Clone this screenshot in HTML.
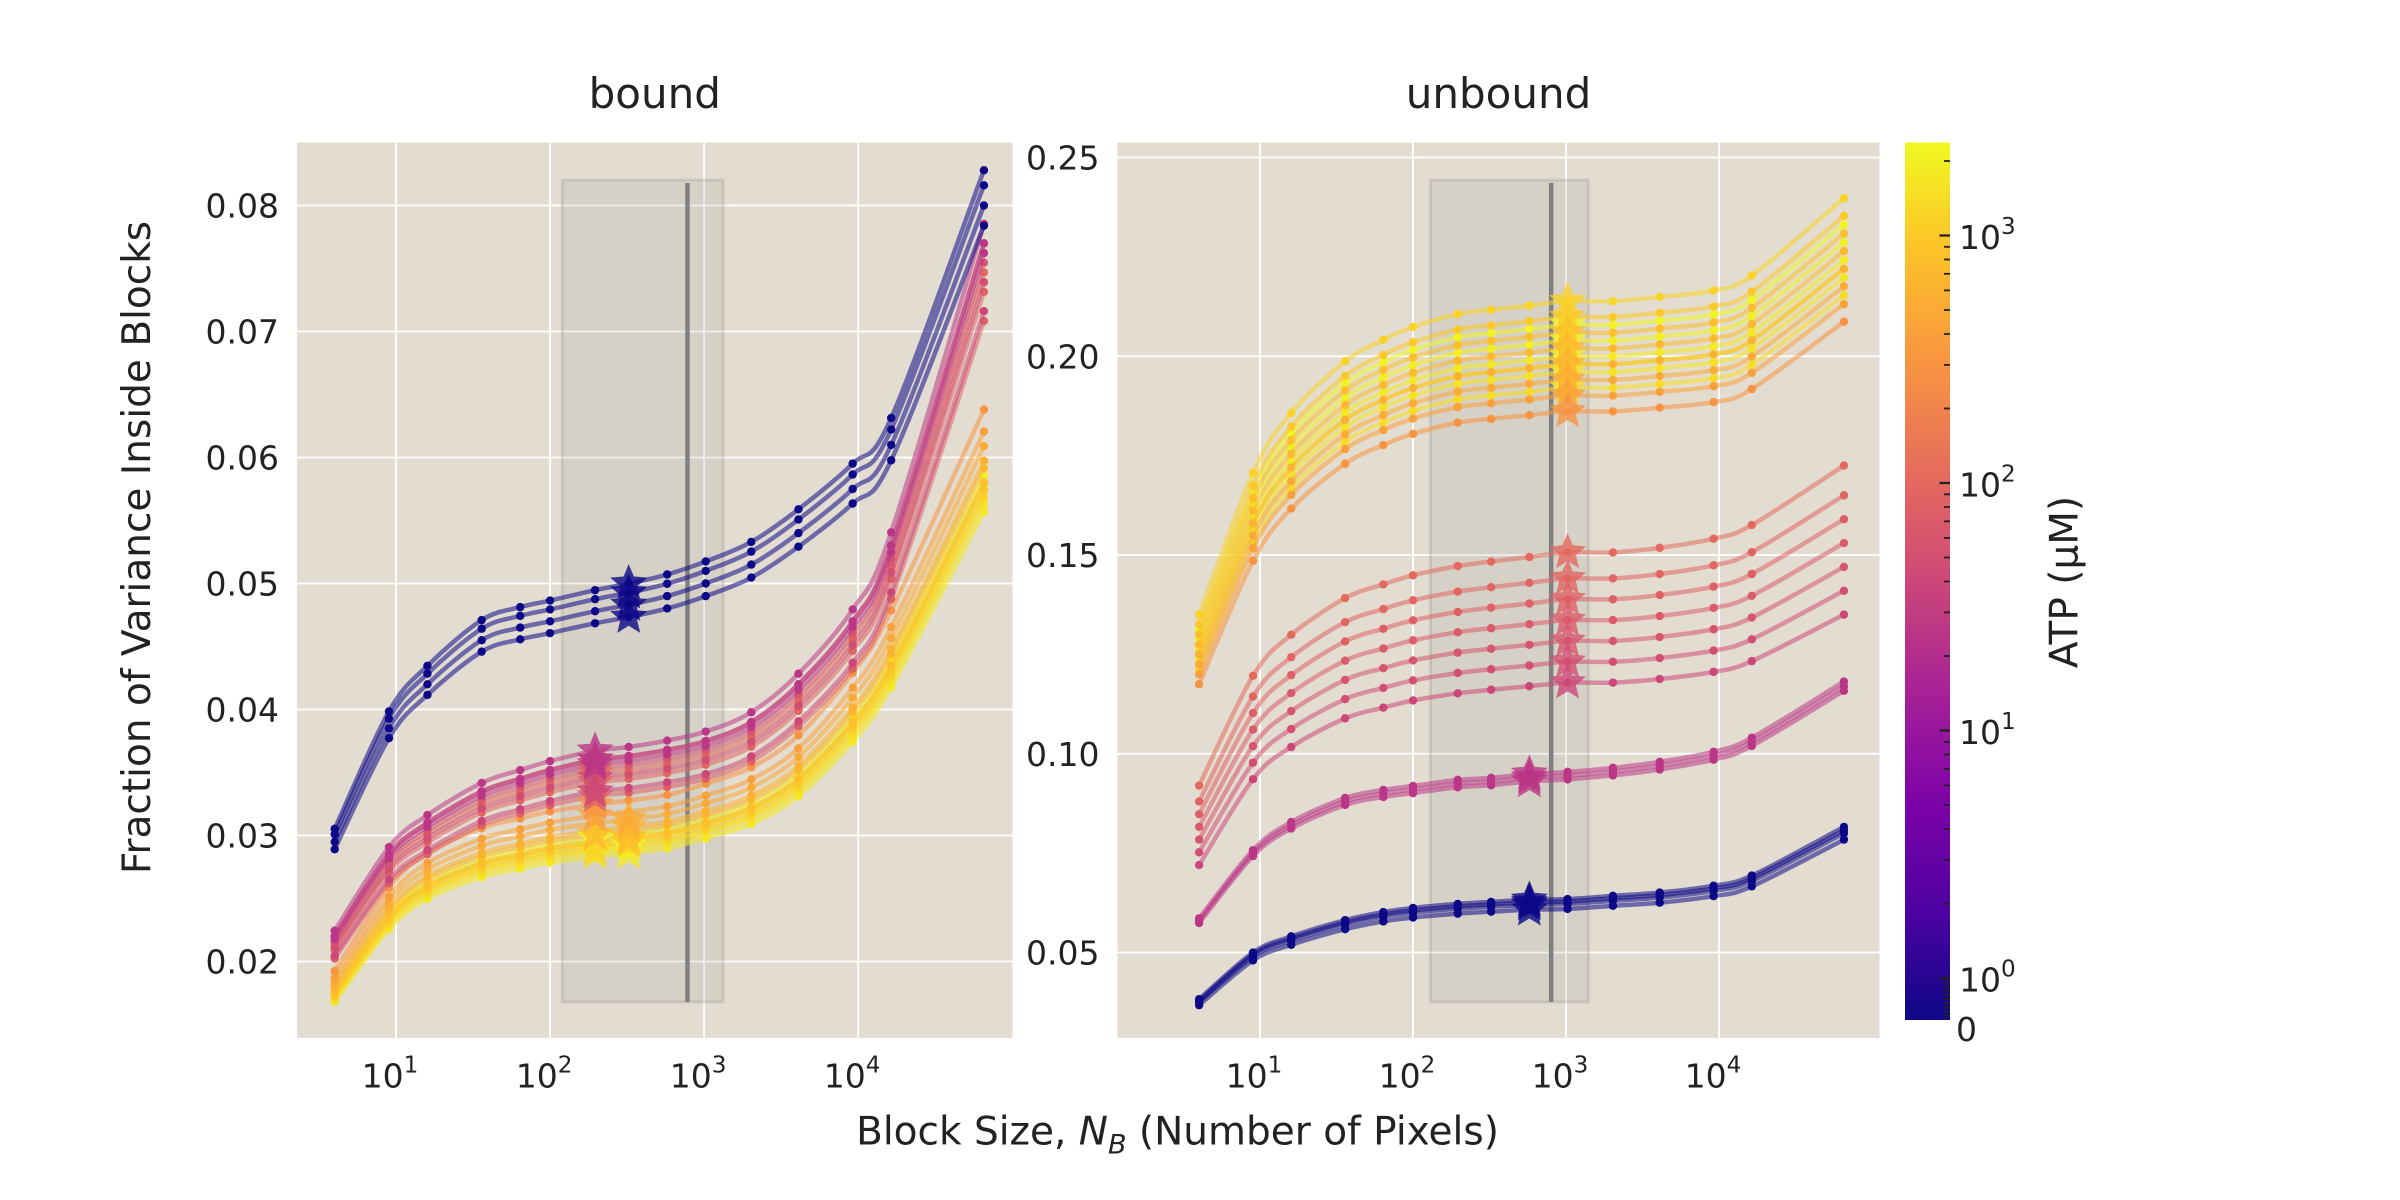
<!DOCTYPE html>
<html><head><meta charset="utf-8">
<style>
html,body{margin:0;padding:0;background:#fff;}
svg{display:block;font-family:"DejaVu Sans","Liberation Sans",sans-serif;}
</style></head>
<body>
<svg id="chart" width="2400" height="1200" viewBox="0 0 1600 800" xmlns="http://www.w3.org/2000/svg">
<defs>
<linearGradient id="plasma" x1="0" y1="1" x2="0" y2="0">
<stop offset="0" stop-color="#0d0887"/><stop offset="0.12" stop-color="#4c02a1"/>
<stop offset="0.25" stop-color="#7e03a8"/><stop offset="0.38" stop-color="#a92395"/>
<stop offset="0.5" stop-color="#cc4778"/><stop offset="0.62" stop-color="#e56b5d"/>
<stop offset="0.75" stop-color="#f89540"/><stop offset="0.88" stop-color="#fdc328"/>
<stop offset="1" stop-color="#f0f921"/>
</linearGradient>
</defs>
<g id="root"></g>
</svg>
<script>
// ---- data ----
const blockSizes = [4,9,16,36,64,100,196,324,576,1024,2025,4096,9216,16384,65536];
const leftBaseBlue   = [0.0295,0.0385,0.042,0.0455,0.0465,0.047,0.0478,0.0483,0.049,0.050,0.0515,0.054,0.0575,0.061,0.080];
const leftBaseRed    = [0.022,0.0285,0.031,0.0335,0.0345,0.0352,0.036,0.0363,0.0368,0.0375,0.039,0.042,0.047,0.053,0.077];
const leftBaseYellow = [0.0175,0.0235,0.026,0.0278,0.0285,0.029,0.0295,0.0298,0.0302,0.031,0.0322,0.0345,0.039,0.0435,0.058];
const rightBaseBlue   = [0.0375,0.049,0.053,0.057,0.059,0.060,0.061,0.0615,0.062,0.0622,0.063,0.0638,0.0655,0.068,0.080];
const rightBaseMag    = [0.058,0.075,0.082,0.088,0.090,0.091,0.0925,0.093,0.094,0.0945,0.0955,0.097,0.0995,0.103,0.117];
const rightBaseRed    = [0.080,0.104,0.113,0.121,0.124,0.126,0.128,0.129,0.130,0.131,0.131,0.132,0.134,0.137,0.150];
const rightBaseYellow = [0.125,0.158,0.172,0.184,0.189,0.192,0.195,0.196,0.197,0.198,0.198,0.199,0.2005,0.204,0.222];
const seriesATP = [0,0,0,0, 25,25,25, 40,50,60,70,80,90,100, 300,400,500,600,700,800,1000,1200,1400,1600,1800,2000,2200,2400];
const leftGroup  = [0,0,0,0, 1,1,1, 1,1,1,1,1,1,1, 2,2,2,2,2,2,2,2,2,2,2,2,2,2];
const leftScale  = [0.98,1.0,1.02,1.035, 1.0,1.02,0.99, 0.93,0.96,0.98,1.0,0.92,0.95,0.97, 1.1,1.07,1.05,1.03,1.02,1.0,0.99,0.98,1.0,0.97,0.96,1.01,0.98,0.995];
const rightGroup = [0,0,0,0, 1,1,1, 2,2,2,2,2,2,2, 3,3,3,3,3,3,3,3,3,3,3,3,3,3];
const rightScale = [0.98,1.0,1.01,1.02, 0.99,1.0,1.01, 0.9,0.94,0.98,1.02,1.06,1.1,1.15, 0.94,0.96,0.98,1.0,1.02,1.04,1.06,1.08,0.97,0.99,1.01,1.03,1.05,1.0];
const leftStarIdx  = [7,7,7,7, 6,6,6, 6,6,6,6,6,6,6, 6,6,7,7,6,7,7,6,7,6,7,6,7,7];
const rightStarIdx = [8,8,8,8, 8,8,8, 9,9,9,9,9,9,9, 9,9,9,9,9,9,9,9,9,9,9,9,9,9];
const leftYTicks = [0.02,0.03,0.04,0.05,0.06,0.07,0.08];
const rightYTicks = [0.05,0.10,0.15,0.20,0.25];
const xTickExps = [1,2,3,4];
const cbarExps = [0,1,2,3];

// ---- helpers ----
const NS="http://www.w3.org/2000/svg";
const root=document.getElementById('root');
function mk(tag,attrs,parent){const e=document.createElementNS(NS,tag);for(const k in attrs)e.setAttribute(k,attrs[k]);(parent||root).appendChild(e);return e;}
const stops=[[0,[13,8,135]],[0.12,[76,2,161]],[0.25,[126,3,168]],[0.38,[169,35,149]],[0.5,[204,71,120]],[0.62,[229,107,93]],[0.75,[248,149,64]],[0.88,[253,195,40]],[1,[240,249,33]]];
function plasma(t){t=Math.max(0,Math.min(1,t));for(let i=1;i<stops.length;i++){if(t<=stops[i][0]){const a=stops[i-1],b=stops[i];const f=(t-a[0])/(b[0]-a[0]);const c=a[1].map((v,j)=>Math.round(v+(b[1][j]-v)*f));return `rgb(${c[0]},${c[1]},${c[2]})`;}}return 'rgb(240,249,33)';}
const cbTop=95,cbBot=680;
function cbY(atp){if(atp<=0)return cbBot; if(atp<1)return cbBot-28*atp; return cbBot-28-165*Math.log10(atp);}
function atpColor(atp){return plasma((cbBot-cbY(atp))/(cbBot-cbTop));}

function smoothPath(pts){let d=`M${pts[0][0]},${pts[0][1]}`;for(let i=0;i<pts.length-1;i++){const p0=pts[Math.max(0,i-1)],p1=pts[i],p2=pts[i+1],p3=pts[Math.min(pts.length-1,i+2)];const c1=[p1[0]+(p2[0]-p0[0])/6,p1[1]+(p2[1]-p0[1])/6];const c2=[p2[0]-(p3[0]-p1[0])/6,p2[1]-(p3[1]-p1[1])/6];d+=`C${c1[0]},${c1[1]} ${c2[0]},${c2[1]} ${p2[0]},${p2[1]}`;}return d;}
function starPts(cx,cy,R){const r=R*0.45;let s=[];for(let i=0;i<10;i++){const a=-Math.PI/2+i*Math.PI/5;const rr=i%2?r:R;s.push((cx+rr*Math.cos(a)).toFixed(1)+','+(cy+rr*Math.sin(a)).toFixed(1));}return s.join(' ');}
function supText(parent,x,y,base,exp,anchor,size,name){const t=mk('text',{x:x,y:y,'text-anchor':anchor,'font-size':size,fill:'#222'},parent);const a=mk('tspan',{},t);a.textContent=base;const b=mk('tspan',{dy:-size*0.45,'font-size':size*0.7},t);b.textContent=exp;return t;}

function panel(cfg){
  const g=mk('g',{});
  
  
  const X=v=>cfg.x10+(Math.log10(v)-1)*cfg.dec;
  const Y=v=>cfg.yA+(v-cfg.vA)*(cfg.yB-cfg.yA)/(cfg.vB-cfg.vA);
  const bg=mk('rect',{x:cfg.l,y:cfg.t,width:cfg.r-cfg.l,height:cfg.b-cfg.t,fill:'#e3ddd1'},g);
  
  cfg.yTicks.forEach(v=>{const y=Y(v);const ln=mk('line',{x1:cfg.l,x2:cfg.r,y1:y,y2:y,stroke:'#fff','stroke-width':1.2},g);
    const t=mk('text',{x:cfg.l-12,y:y+8,'text-anchor':'end','font-size':22,fill:'#222'},g);t.textContent=v.toFixed(cfg.dp);});
  xTickExps.forEach(e=>{const x=X(Math.pow(10,e));const ln=mk('line',{x1:x,x2:x,y1:cfg.t,y2:cfg.b,stroke:'#fff','stroke-width':1.2},g);
    supText(g,x-4,cfg.b+33,'10',String(e),'middle',22,'x-tick-label');});
  const sh=mk('rect',{x:X(cfg.shadeLo),y:cfg.t+25,width:X(cfg.shadeHi)-X(cfg.shadeLo),height:cfg.b-cfg.t-49,fill:'#8a8a8a','fill-opacity':0.15,stroke:'#8a8a8a','stroke-opacity':0.25,'stroke-width':2},g);
  
  const vl=mk('line',{x1:X(cfg.vline),x2:X(cfg.vline),y1:cfg.t+27,y2:cfg.b-24,stroke:'#808080','stroke-width':3},g);
  
  const order=seriesATP.map((a,i)=>i).sort((a,b)=>seriesATP[b]-seriesATP[a]);
  order.forEach(i=>{
    const base=cfg.bases[cfg.group[i]];const col=atpColor(seriesATP[i]);
    const pts=blockSizes.map((bs,k)=>[X(bs),Y(base[k]*cfg.scale[i])]);
    const p=mk('path',{d:smoothPath(pts),fill:'none',stroke:col,'stroke-width':3,'stroke-opacity':0.55},g);
    
    pts.forEach(q=>{const c=mk('circle',{cx:q[0],cy:q[1],r:2.8,fill:col},g);});
  });
  order.forEach(i=>{
    const base=cfg.bases[cfg.group[i]];const k=cfg.starIdx[i];const col=atpColor(seriesATP[i]);
    const s=mk('polygon',{points:starPts(X(blockSizes[k]),Y(base[k]*cfg.scale[i]),13),fill:col,'fill-opacity':0.8},g);
    
  });
  const tt=mk('text',{x:(cfg.l+cfg.r)/2,y:72,'text-anchor':'middle','font-size':28,fill:'#222'},g);tt.textContent=cfg.title;
  
}

panel({name:'bound-panel',title:'bound',l:198,r:675,t:95,b:692,x10:264,dec:102.7,yA:137,vA:0.08,yB:641,vB:0.02,yTicks:leftYTicks,dp:2,
  bases:[leftBaseBlue,leftBaseRed,leftBaseYellow],group:leftGroup,scale:leftScale,starIdx:leftStarIdx,shadeLo:120,shadeHi:1330,vline:780});
panel({name:'unbound-panel',title:'unbound',l:745,r:1253,t:95,b:692,x10:840,dec:102,yA:105,vA:0.25,yB:635,vB:0.05,yTicks:rightYTicks,dp:2,
  bases:[rightBaseBlue,rightBaseMag,rightBaseRed,rightBaseYellow],group:rightGroup,scale:rightScale,starIdx:rightStarIdx,shadeLo:130,shadeHi:1400,vline:800});

const yl=mk('text',{x:0,y:0,transform:'translate(100,365) rotate(-90)','text-anchor':'middle','font-size':26,fill:'#222'});
yl.textContent='Fraction of Variance Inside Blocks';
const xl=mk('text',{x:785,y:763,'text-anchor':'middle','font-size':26,fill:'#222'});

[['Block Size, ',{}],['N',{'font-style':'italic'}],['B',{'font-style':'italic','font-size':18,dy:6}],[' (Number of Pixels)',{dy:-6}]].forEach(p=>{const s=mk('tspan',p[1],xl);s.textContent=p[0];});

const cb=mk('g',{});
mk('rect',{x:1270,y:cbTop,width:30,height:cbBot-cbTop,fill:'url(#plasma)'},cb);
for(let e=0;e<4;e++){for(let m=2;m<10;m++){const v=m*Math.pow(10,e);const y=cbY(v);if(y<cbTop)continue;mk('line',{x1:1296,x2:1300,y1:y,y2:y,stroke:'#222','stroke-width':1.2},cb);}}
for(let m=1;m<10;m++){mk('line',{x1:1296,x2:1300,y1:cbY(m/10),y2:cbY(m/10),stroke:'#222','stroke-width':1.2},cb);}
cbarExps.forEach(e=>{const y=cbY(Math.pow(10,e));mk('line',{x1:1293,x2:1300,y1:y,y2:y,stroke:'#222','stroke-width':1.5},cb);supText(cb,1306,y+9,'10',String(e),'start',22,'colorbar-tick-label');});
const z=mk('text',{x:1304,y:cbBot+14,'font-size':22,fill:'#222'},cb);z.textContent='0';
const cl=mk('text',{x:0,y:0,transform:'translate(1385,388) rotate(-90)','text-anchor':'middle','font-size':26,fill:'#222'},cb);
cl.textContent='ATP (µM)';
</script>
</body></html>
